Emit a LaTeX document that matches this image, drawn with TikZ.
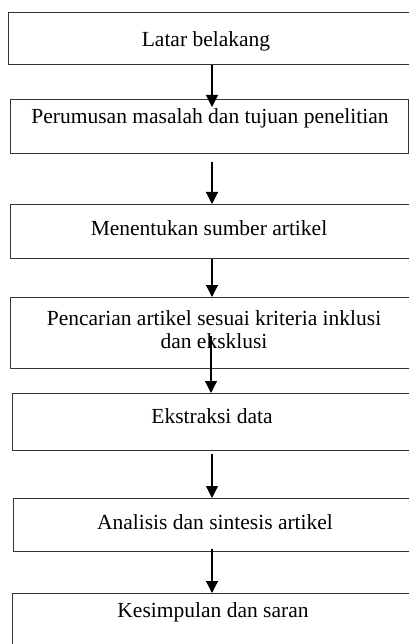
\documentclass[tikz,border=0pt]{standalone}
\usepackage{fontspec}
\setmainfont{Liberation Serif}
\usetikzlibrary{arrows.meta,calc}
\tikzset{
  box/.style={draw=black!80, line width=1.2pt, rectangle, inner sep=0pt, anchor=north west},
  lbl/.style={font=\fontsize{21.5}{23}\selectfont, inner sep=0pt, anchor=base, align=center, text=black},
  arr/.style={line width=1.2pt, draw=black, -{Triangle[width=12pt,length=12pt]}}
}
\begin{document}
\begin{tikzpicture}[x=1pt,y=-1pt]
\useasboundingbox (0,0) rectangle (409,644);
\clip (0,0) rectangle (409,644);
\coordinate (ax) at (212,0);
% boxes
\node[box, minimum width=412pt, minimum height=52pt] (b1) at (8,12) {};
\node[box, minimum width=398pt, minimum height=54pt] (b2) at (10,99) {};
\node[box, minimum width=410pt, minimum height=54pt] (b3) at (10,204) {};
\node[box, minimum width=410pt, minimum height=71pt] (b4) at (10,297) {};
\node[box, minimum width=408pt, minimum height=57pt] (b5) at (12,393) {};
\node[box, minimum width=407pt, minimum height=53pt] (b6) at (13,498) {};
\node[box, minimum width=408pt, minimum height=70pt] (b7) at (12,593) {};
% texts
\node[lbl] (t1) at (206,47) {Latar belakang};
\node[lbl] (t2) at (210,124) {Perumusan masalah dan tujuan penelitian};
\node[lbl] (t3) at (209,235) {Menentukan sumber artikel};
\node[lbl] (t4) at (214,348) {Pencarian artikel sesuai kriteria inklusi\\dan eksklusi};
\node[lbl] (t5) at (212,423) {Ekstraksi data};
\node[lbl] (t6) at (215,529) {Analisis dan sintesis artikel};
\node[lbl] (t7) at (213,617) {Kesimpulan dan saran};
% arrows
\draw[arr] (b1.south -| ax) -- ($(b2.north -| ax)+(0,8)$);
\draw[arr] ($(b2.south -| ax)+(0,8)$) -- (b3.north -| ax);
\draw[arr] (b3.south -| ax) -- (b4.north -| ax);
\draw[arr] ($(b4.south -| ax)+(-1,-33)$) -- ($(b5.north -| ax)+(-1,0)$);
\draw[arr] ($(b5.south -| ax)+(0,3)$) -- (b6.north -| ax);
\draw[arr] ($(b6.south -| ax)+(0,-3)$) -- (b7.north -| ax);
\end{tikzpicture}
\end{document}
